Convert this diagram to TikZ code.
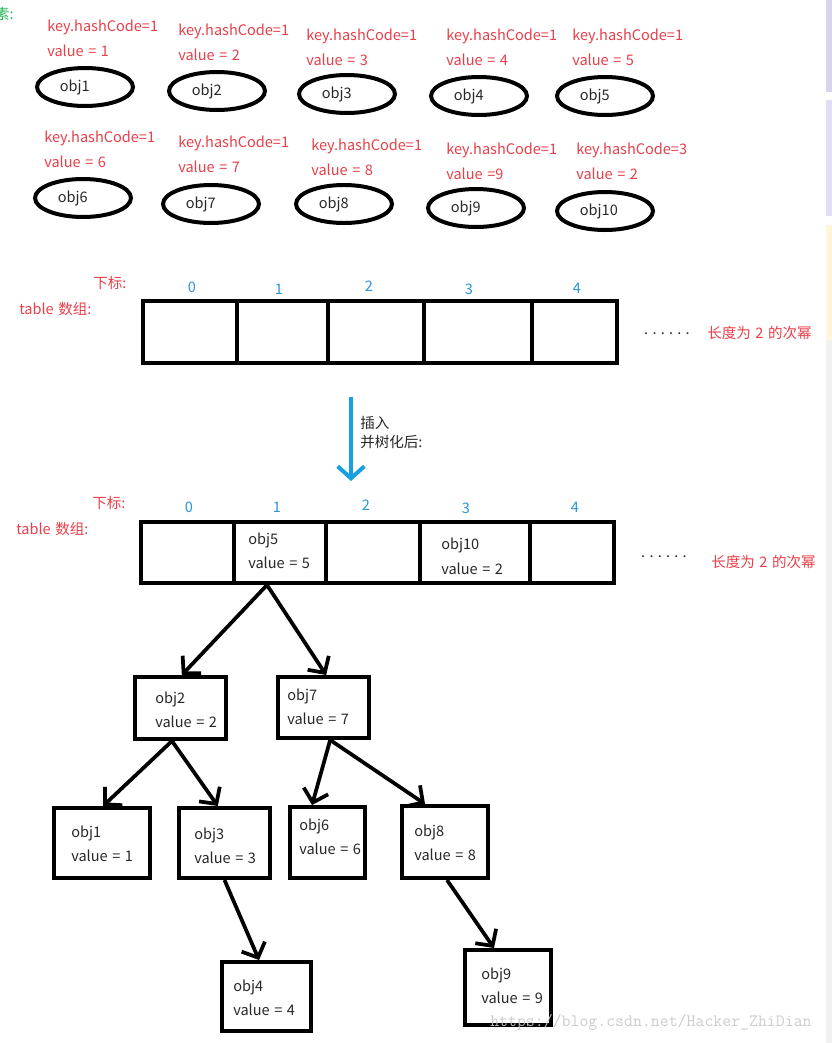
\documentclass[tikz,border=0pt]{standalone}
\usepackage{fontspec}
\setmainfont[WordSpace=1.4]{Noto Sans CJK SC}
\usetikzlibrary{arrows.meta,shapes.geometric,fit}

\definecolor{keyred}{RGB}{232,64,74}
\definecolor{idxblue}{RGB}{40,150,215}
\definecolor{flowblue}{RGB}{22,160,226}
\definecolor{ink}{RGB}{40,40,40}
\definecolor{tagreen}{RGB}{40,180,90}

\newcommand{\spaceddots}{.\hspace{3.2pt}.\hspace{3.2pt}.\hspace{3.2pt}.\hspace{3.2pt}.\hspace{3.2pt}.}

\tikzset{
  px/.style={x=0.75pt,y=-0.75pt},
  txt/.style={inner sep=0pt,anchor=west,text=ink,font=\fontsize{10.9pt}{12pt}\selectfont},
  redtxt/.style={txt,text=keyred},
  idx/.style={inner sep=0pt,text=idxblue,font=\fontsize{10.9pt}{12pt}\selectfont},
  objell/.style={draw=black,line width=3pt,ellipse,inner sep=0pt,
                 minimum width=72pt,minimum height=28.5pt},
  cell/.style={draw=black,line width=3pt,inner sep=0pt},
  objbox/.style={draw=black,line width=3pt,inner sep=0pt},
  link/.style={line width=2.8pt,-{Straight Barb[length=9pt,width=19pt,line width=2.8pt]}},
}

\begin{document}
\begin{tikzpicture}[px]
\path[use as bounding box,fill=white] (0,0) rectangle (832,1043);

% side strip of the window edge
\fill[black!5] (826,340) rectangle (832,1043);
\fill[color={rgb,255:red,218;green,212;blue,234}] (826,0) rectangle (832,92);
\fill[color={rgb,255:red,226;green,221;blue,245}] (826,100) rectangle (832,216);
\fill[color={rgb,255:red,255;green,246;blue,220}] (826,225) rectangle (832,340);

% cut-off heading
\node[txt,text=tagreen,anchor=east] (head) at (14,14) {素:};

% ---------- the ten entries ----------
\foreach \n/\cx/\cy/\lx/\ly/\hc/\v in {
  1/85/87/47/27/1/1, 2/217/91/178/31/1/2, 3/347/94/306/36/1/3,
  4/479/96/446/36/1/4, 5/605/96/572/36/1/5,
  6/83/198/44/138/1/6, 7/211/204/178/143/1/7, 8/344/204/311/146/1/8,
  10/605/211/576/150/3/2}{
  \node[objell] (e\n) at (\cx,\cy) {};
  \node[txt] (en\n) at ([xshift=-19pt]e\n.center) {obj\n};
  \node[redtxt] (ek\n) at (\lx,\ly) {key.hashCode=\hc};
  \node[redtxt] (ev\n) at (\lx,\ly+24) {value = \v};
}
\node[objell] (e9) at (476,208) {};
\node[txt] (en9) at ([xshift=-19pt]e9.center) {obj9};
\node[redtxt] (ek9) at (446,150) {key.hashCode=1};
\node[redtxt] (ev9) at (446,174) {value =9};

% ---------- table before insertion ----------
\node[redtxt] (sub1) at (93,283) {下标:};
\node[redtxt] (arr1) at (19,309) {table 数组:};
\node[cell,fit={(143,301) (237,363)}] (a0) {};
\node[cell,fit={(237,301) (328,363)}] (a1) {};
\node[cell,fit={(328,301) (424,363)}] (a2) {};
\node[cell,fit={(424,301) (532,363)}] (a3) {};
\node[cell,fit={(532,301) (617,363)}] (a4) {};
\foreach \i/\x/\y in {0/192/287,1/279/289,2/369/286,3/469/289,4/577/288}
  \node[idx] (ai\i) at (\x,\y) {\i};
\node[txt,anchor=center] (dots1) at (667,334) {\spaceddots};
\node[redtxt] (len1) at (707,333) {长度为 2 的次幂};

% ---------- insertion arrow ----------
\coordinate (fa) at (351,397);
\coordinate (fb) at (351,481);
\draw[line width=3pt,flowblue,-{Straight Barb[length=9pt,width=20pt,line width=3pt]}] (fa) -- (fb);
\node[txt] (ins1) at (360,423) {插入};
\node[txt] (ins2) at (360,442) {并树化后:};

% ---------- table after treeification ----------
\node[redtxt] (sub2) at (92,503) {下标:};
\node[redtxt] (arr2) at (16,529) {table 数组:};
\node[cell,fit={(141,522) (234,583)}] (b0) {};
\node[cell,fit={(234,522) (326,583)}] (b1) {};
\node[cell,fit={(326,522) (420,583)}] (b2) {};
\node[cell,fit={(420,522) (530,583)}] (b3) {};
\node[cell,fit={(530,522) (614,583)}] (b4) {};
\foreach \i/\x/\y in {0/189/507,1/277/507,2/366/505,3/466/508,4/575/507}
  \node[idx] (bi\i) at (\x,\y) {\i};
\node[txt,anchor=center] (dots2) at (664,557) {\spaceddots};
\node[redtxt] (len2) at (711,562) {长度为 2 的次幂};
\node[txt] (c1a) at (248,540) {obj5};
\node[txt] (c1b) at (248,563) {value = 5};
\node[txt] (c3a) at (441,545) {obj10};
\node[txt] (c3b) at (441,569) {value = 2};

% ---------- red-black tree boxes ----------
\foreach \n/\xa/\ya/\xb/\yb/\tx/\ty in {
  2/135/677/226/739/155/699, 7/278/677/369/738/287/696,
  1/54/808/150/878/71/833, 3/179/808/270/878/194/835,
  6/290/807/365/878/299/826, 8/402/806/488/878/414/832,
  4/222/962/311/1031/233/987, 9/465/950/551/1025/481/975}{
  \node[objbox,fit={(\xa,\ya) (\xb,\yb)}] (t\n) {};
  \node[txt] (tn\n) at (\tx,\ty) {obj\n};
  \node[txt] (tv\n) at (\tx,\ty+23) {value = \n};
}

% ---------- tree links ----------
\draw[link] ([xshift=-9.75pt]b1.south) -- ([xshift=1pt]t2.north);
\draw[link] ([xshift=-9.75pt]b1.south) -- ([xshift=2pt]t7.north);
\draw[link] ([xshift=-6.4pt]t2.south) -- ([xshift=0.8pt]t1.north);
\draw[link] ([xshift=-6.4pt]t2.south) -- ([xshift=-5pt]t3.north);
\draw[link] ([xshift=5pt]t7.south) -- ([xshift=-11.6pt]t6.north);
\draw[link] ([xshift=5pt]t7.south) -- ([xshift=-15pt]t8.north);
\draw[link] ([xshift=0pt]t3.south) -- ([xshift=-5.6pt]t4.north);
\draw[link] ([xshift=1.5pt]t8.south) -- ([xshift=-10.5pt]t9.north);

% ---------- watermark ----------
\node[inner sep=0pt,anchor=west,text=black!22,opacity=0.9,
      font=\ttfamily\fontsize{13pt}{14pt}\selectfont] (mark) at (490,1022)
      {https://blog.csdn.net/Hacker\_ZhiDian};
\end{tikzpicture}
\end{document}
